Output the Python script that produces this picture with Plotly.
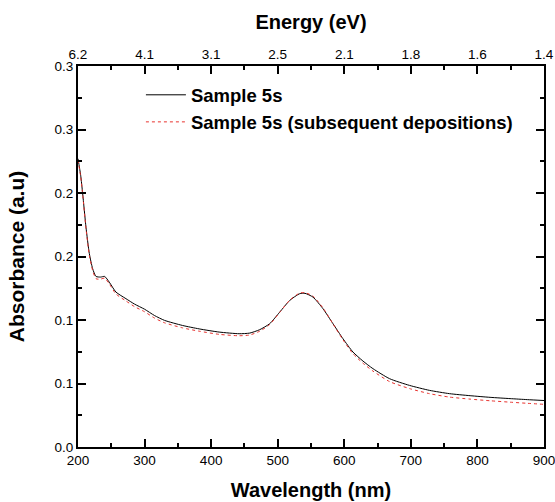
import plotly.graph_objects as go

wavelength = [200, 204, 207, 212, 217, 222, 227, 234, 240, 247, 257, 272, 285, 300, 315, 330, 357, 382,
              412, 442, 458, 473, 488, 503, 518, 533, 541, 553, 568, 583, 598, 613, 628, 643, 668,
              698, 728, 758, 789, 819, 849, 875, 900]
sample_5s = [0.227, 0.214, 0.1996, 0.173, 0.1524, 0.1404, 0.1343, 0.1338, 0.1343, 0.1298, 0.1220,
             0.1168, 0.1125, 0.1085, 0.1035, 0.0997, 0.0957, 0.0930, 0.0905, 0.0892, 0.0897, 0.0924,
             0.0971, 0.1062, 0.1154, 0.1207, 0.1210, 0.1180, 0.1089, 0.0971, 0.0853, 0.0748, 0.0677,
             0.0617, 0.0538, 0.0485, 0.0446, 0.0420, 0.0404, 0.0391, 0.0381, 0.0373, 0.0366]
sample_5s_subsequent = [0.226, 0.213, 0.199, 0.172, 0.151, 0.139, 0.1325, 0.1322, 0.1330, 0.1285,
                        0.1205, 0.1150, 0.1105, 0.1065, 0.1015, 0.0978, 0.0938, 0.0912, 0.0887,
                        0.0876, 0.0882, 0.0912, 0.0965, 0.1060, 0.1156, 0.1212, 0.1215, 0.1188,
                        0.1095, 0.0970, 0.0845, 0.0735, 0.0660, 0.0598, 0.0515, 0.0460, 0.0420,
                        0.0393, 0.0377, 0.0364, 0.0353, 0.0344, 0.0336]

wl_ticks = [200, 300, 400, 500, 600, 700, 800, 900]
energy_labels = ["6.2", "4.1", "3.1", "2.5", "2.1", "1.8", "1.6", "1.4"]
abs_ticks = [0, 0.05, 0.10, 0.15, 0.20, 0.25, 0.30]
abs_labels = ["0.0", "0.1", "0.1", "0.2", "0.2", "0.3", "0.3"]

font = "Liberation Sans, Arial, sans-serif"
title_font = dict(family=font, size=20, color="black", weight="bold")
minor_x = dict(ticks="inside", ticklen=4, tickwidth=1.5, tickcolor="black", tick0=250, dtick=100)

fig = go.Figure()
fig.add_trace(go.Scatter(x=wavelength, y=sample_5s, mode="lines", name="Sample 5s",
                         line=dict(color="black", width=1, shape="spline", smoothing=0.6)))
fig.add_trace(go.Scatter(x=wavelength, y=sample_5s_subsequent, mode="lines",
                         name="Sample 5s (subsequent depositions)",
                         line=dict(color="#e8322e", width=1, dash="dot", shape="spline", smoothing=0.6)))
# invisible trace for top axis
fig.add_trace(go.Scatter(x=[wl_ticks[0], wl_ticks[-1]], y=[None, None], xaxis="x2",
                         showlegend=False, hoverinfo="skip", mode="lines"))

axis_common = dict(showline=True, linecolor="black", linewidth=1.8, ticks="inside",
                   tickcolor="black", tickwidth=1.5, ticklen=8, showgrid=False, zeroline=False,
                   automargin=False, ticklabeloverflow="allow",
                   tickfont=dict(family=font, size=13.5, color="black"))

fig.update_layout(
    width=555, height=502,
    margin=dict(l=78, r=11, t=66, b=55),
    paper_bgcolor="white", plot_bgcolor="white",
    font=dict(family=font, color="black"),
    showlegend=True,
    legend=dict(x=0.135, y=0.973, xanchor="left", yanchor="top", bgcolor="rgba(0,0,0,0)",
                font=dict(family=font, size=18.5, color="black", weight="bold"),
                tracegroupgap=0, itemwidth=40),
    xaxis=dict(range=[200, 900], tickmode="array", tickvals=wl_ticks,
               ticktext=[str(v) for v in wl_ticks], minor=minor_x,
               title=dict(text="Wavelength (nm)", standoff=16, font=title_font),
               **axis_common),
    xaxis2=dict(range=[200, 900], overlaying="x", side="top", tickmode="array",
                tickvals=wl_ticks, ticktext=energy_labels, minor=minor_x,
                title=dict(text="Energy (eV)", standoff=12, font=title_font),
                **axis_common),
    yaxis=dict(range=[0, 0.3], tickmode="array", tickvals=abs_ticks, ticktext=abs_labels,
               mirror="ticks",
               minor=dict(ticks="inside", ticklen=4, tickwidth=1.5, tickcolor="black",
                          tick0=0.025, dtick=0.05),
               title=dict(text="Absorbance (a.u)", standoff=24,
                          font=dict(family=font, size=21, color="black", weight="bold")),
               **axis_common),
)

# remove the default page margin so the figure sits at the window's top-left corner
fig.write_html("out.html", config={"displayModeBar": False},
               post_script="document.body.style.margin='0px';")
